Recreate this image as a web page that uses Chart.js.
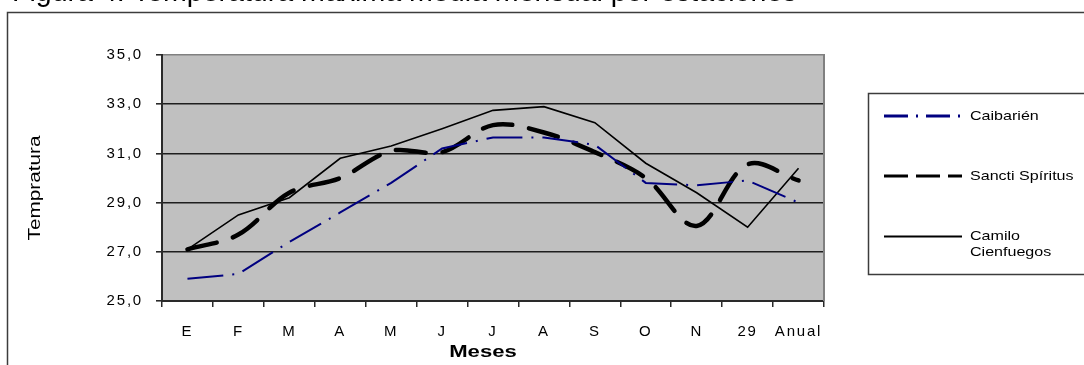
<!DOCTYPE html>
<html>
<head>
<meta charset="utf-8">
<script src="https://cdn.jsdelivr.net/npm/chart.js@4.4.1/dist/chart.umd.min.js"></script>
<style>
  html, body { margin: 0; padding: 0; background: #fff; overflow: hidden; }
  #wrap { position: relative; width: 1084px; height: 365px; overflow: hidden; }
  #c { display: block; }
</style>
</head>
<body>
<div id="wrap"><canvas id="c" width="1084" height="365"></canvas></div>
<script>
// Monthly mean temperature per station (°C)
const months = ['E', 'F', 'M', 'A', 'M', 'J', 'J', 'A', 'S', 'O', 'N', '29', 'Anual'];
const caibarien = [25.9, 26.1, 27.4, 28.6, 29.8, 31.2, 31.65, 31.65, 31.35, 29.8, 29.7, 29.9, 29.0];
const sanctiSpiritus = [27.1, 27.7, 29.4, 30.0, 31.1, 31.05, 32.15, 31.85, 31.05, 30.0, 28.05, 30.55, 29.9];
const camiloCienfuegos = [27.1, 28.5, 29.2, 30.8, 31.3, 32.0, 32.75, 32.9, 32.25, 30.6, 29.4, 28.0, 30.4];
const yTicks = [25, 27, 29, 31, 33, 35];
const seriesNames = ['Caibarién', 'Sancti Spíritus', 'Camilo Cienfuegos'];
const legendLines = [['Caibarién'], ['Sancti Spíritus'], ['Camilo', 'Cienfuegos']];
const xTitle = 'Meses';
const yTitle = 'Tempratura';
const caption = 'Figura 4. Temperatura máxima media mensual por estaciones';

const FONT = "'Liberation Sans', Arial, sans-serif";

// legend sample strokes (thinner than the plotted lines)
const legendStyle = [
  { color: '#000080', width: 3, dash: [24, 8, 2, 8] },
  { color: '#000000', width: 3.2, dash: [24, 8] },
  { color: '#000000', width: 2, dash: [] }
];

function stretchedText(ctx, text, x, y, sx, font, align) {
  ctx.save();
  ctx.translate(x, y);
  ctx.scale(sx, 1);
  ctx.font = font;
  ctx.textAlign = align || 'left';
  ctx.textBaseline = 'middle';
  ctx.fillText(text, 0, 0);
  ctx.restore();
}

// open-ended frame: only the edges that fall inside the canvas
function openFrame(ctx, x, y, right, bottom) {
  ctx.beginPath();
  ctx.moveTo(right, y);
  ctx.lineTo(x, y);
  ctx.lineTo(x, bottom);
  if (bottom < 365) ctx.lineTo(right, bottom);
  ctx.stroke();
}

const decor = {
  id: 'decor',
  beforeDraw(chart) {
    const ctx = chart.ctx;
    const a = chart.chartArea;
    ctx.save();
    ctx.fillStyle = '#fff';
    ctx.fillRect(0, 0, chart.width, chart.height);

    // caption line of the page, cut by the top edge
    ctx.fillStyle = '#000';
    ctx.letterSpacing = '0px';
    let size = 26;
    ctx.font = size + 'px ' + FONT;
    const w = ctx.measureText(caption).width;
    size = size * 785 / w;
    ctx.font = size + 'px ' + FONT;
    ctx.textBaseline = 'alphabetic';
    ctx.textAlign = 'left';
    ctx.fillText(caption, 12, 1);

    // outer chart frame
    ctx.strokeStyle = '#3c3c3c';
    ctx.lineWidth = 1.5;
    openFrame(ctx, 7.5, 12.5, chart.width + 5, chart.height + 5);

    // plot background
    ctx.fillStyle = '#c0c0c0';
    ctx.fillRect(a.left, a.top, a.right - a.left, a.bottom - a.top);
    ctx.restore();

    // tick labels are drawn spread out
    ctx.letterSpacing = '1.8px';
  },
  afterDraw(chart) {
    const ctx = chart.ctx;
    const a = chart.chartArea;
    ctx.save();
    ctx.letterSpacing = '0px';

    // right edge of plot
    ctx.strokeStyle = '#808080';
    ctx.lineWidth = 2;
    ctx.beginPath();
    ctx.moveTo(a.right, a.top - 1);
    ctx.lineTo(a.right, a.bottom);
    ctx.stroke();

    // axis titles
    ctx.fillStyle = '#000';
    stretchedText(ctx, xTitle, 483, 352, 1.3, 'bold 17px ' + FONT, 'center');
    ctx.save();
    ctx.translate(35, 188);
    ctx.rotate(-Math.PI / 2);
    stretchedText(ctx, yTitle, 0, 0, 1.22, '17px ' + FONT, 'center');
    ctx.restore();

    // legend
    const box = { x: 868.5, y: 93.5, right: chart.width + 5, bottom: 274.5 };
    ctx.fillStyle = '#fff';
    ctx.fillRect(box.x, box.y, box.right - box.x, box.bottom - box.y);
    ctx.strokeStyle = '#3c3c3c';
    ctx.lineWidth = 1.5;
    openFrame(ctx, box.x, box.y, box.right, box.bottom);
    const rowY = [116, 176, 236.5];
    legendLines.forEach((lines, i) => {
      const st = legendStyle[i];
      ctx.save();
      ctx.strokeStyle = st.color;
      ctx.lineWidth = st.width;
      ctx.setLineDash(st.dash);
      ctx.beginPath();
      ctx.moveTo(884, rowY[i]);
      ctx.lineTo(962, rowY[i]);
      ctx.stroke();
      ctx.restore();
      ctx.fillStyle = '#000';
      lines.forEach((t, k) => {
        stretchedText(ctx, t, 970, rowY[i] + k * 16, 1.19, '13.5px ' + FONT, 'left');
      });
    });
    ctx.restore();
  }
};

new Chart(document.getElementById('c'), {
  type: 'line',
  data: {
    labels: months,
    datasets: [
      {
        label: seriesNames[0], data: caibarien,
        borderColor: '#000080', borderWidth: 2, borderDash: [36, 9, 2, 9],
        tension: 0, pointRadius: 0, fill: false
      },
      {
        label: seriesNames[1], data: sanctiSpiritus,
        borderColor: '#000000', borderWidth: 4.5, borderDash: [30, 17],
        borderCapStyle: 'round', tension: 0.35, pointRadius: 0, fill: false
      },
      {
        label: seriesNames[2], data: camiloCienfuegos,
        borderColor: '#000000', borderWidth: 1.6,
        tension: 0, pointRadius: 0, fill: false
      }
    ]
  },
  options: {
    responsive: false,
    animation: false,
    devicePixelRatio: 1,
    layout: { padding: { left: 0, top: 55, right: 260, bottom: 0 } },
    plugins: { legend: { display: false }, tooltip: { enabled: false }, title: { display: false } },
    scales: {
      x: {
        offset: true,
        grid: { offset: true, drawOnChartArea: false, drawTicks: true, tickLength: 6, color: '#2a2a2a', lineWidth: 1.5 },
        border: { display: true, color: '#2a2a2a', width: 2 },
        ticks: { color: '#000', font: { family: FONT, size: 15 }, padding: 16, maxRotation: 0, autoSkip: false },
        afterFit(s) { s.height = 64; }
      },
      y: {
        min: 25, max: 35,
        afterBuildTicks(s) { s.ticks = yTicks.map(v => ({ value: v })); },
        grid: {
          color(c) {
            const v = c.tick && c.tick.value;
            if (v === 35) return '#808080';
            if (v === 25) return 'rgba(0,0,0,0)';
            return '#1e1e1e';
          },
          lineWidth: 1.6, drawTicks: true, tickLength: 6, tickColor: '#2a2a2a'
        },
        border: { display: true, color: '#2a2a2a', width: 2 },
        ticks: {
          color: '#000', font: { family: FONT, size: 15 }, padding: 13,
          callback: v => v.toFixed(1).replace('.', ',')
        },
        afterFit(s) { s.width = 162; }
      }
    }
  },
  plugins: [decor]
});
</script>
</body>
</html>
